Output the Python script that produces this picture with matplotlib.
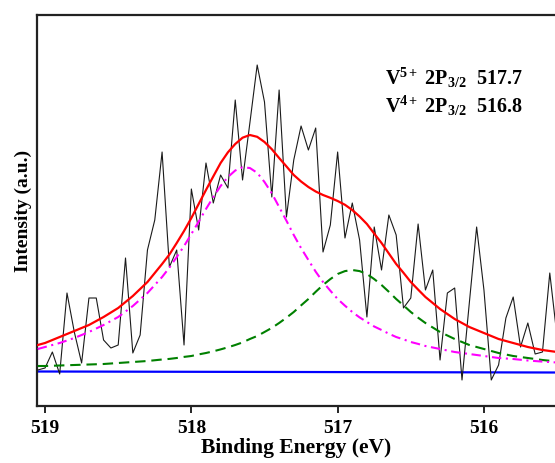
import numpy as np
import matplotlib
matplotlib.use("Agg")
import matplotlib.pyplot as plt

plt.rcParams["font.family"] = ["Liberation Serif", "DejaVu Serif"]
plt.rcParams["font.weight"] = "bold"
plt.rcParams["mathtext.fontset"] = "custom"
plt.rcParams["mathtext.rm"] = "Liberation Serif:bold"
plt.rcParams["mathtext.bf"] = "Liberation Serif:bold"
plt.rcParams["mathtext.it"] = "Liberation Serif:bold:italic"

# raw spectrum, 0.05 eV steps from 519.05 down to 515.50 (a.u., background = 0)
E_START, E_STEP = 519.05, 0.05
counts = [2, 4, 20, -2, 79, 40, 9, 74, 74, 32, 24, 27, 114, 19, 37, 122,
          152, 220, 105, 122, 27, 183, 142, 209, 169, 197, 184, 272, 192, 249,
          307, 270, 175, 282, 155, 212, 246, 222, 244, 120, 147, 220, 134, 169,
          132, 55, 145, 102, 157, 137, 64, 74, 148, 82, 102, 12, 79, 84, -8,
          69, 145, 82, -8, 7, 54, 75, 25, 49, 18, 20, 99, 35]

# fitted curves (finer spacing around the peaks)
fit_e = [519.05, 519.0, 518.9, 518.8, 518.7, 518.6, 518.5, 518.4, 518.3,
         518.2, 518.15, 518.1, 518.05, 518.0, 517.95, 517.9, 517.85, 517.8,
         517.75, 517.7, 517.65, 517.6, 517.55, 517.5, 517.45, 517.4, 517.35,
         517.3, 517.25, 517.2, 517.15, 517.1, 517.05, 517.0, 516.95, 516.9,
         516.85, 516.8, 516.75, 516.7, 516.65, 516.6, 516.55, 516.5, 516.45,
         516.4, 516.3, 516.2, 516.1, 516.0, 515.9, 515.8, 515.7, 515.6, 515.5]
envelope = [27, 29, 35, 41, 47, 55, 64, 76, 90,
            108, 117.5, 129, 141, 154, 168, 182, 195.6, 209, 219.7, 228,
            234.3, 237, 235.2, 230, 222.8, 214, 205.6, 197, 190.5, 185,
            180.5, 177, 174.2, 171, 167.2, 162, 155.5, 148, 138.4, 129,
            118.5, 108, 99.2, 90, 82.4, 75,
            63, 53, 45, 39, 33, 29, 25, 22, 20]
v5_peak = [23, 25, 29, 34, 40, 47, 55, 66, 79,
           95, 104.4, 115, 125.9, 138, 150.3, 163, 174.9, 186, 195, 201.5,
           204.7, 204, 199.2, 190, 178.7, 165, 151.3, 137, 123.9, 112,
           100.3, 90, 81.3, 73, 66.3, 60, 54.6, 50, 45.5, 42,
           38.3, 35, 32.6, 30, 28.1, 26,
           23, 20, 18, 16, 14, 13, 11.5, 10.4, 9.5]
v4_peak = [6, 6, 6.5, 7, 7.5, 8, 9, 10, 11,
           12.5, 13.1, 14, 15.1, 16, 17.6, 19, 20.7, 22.6, 24.7, 27,
           29.6, 33, 36, 40, 44.1, 49, 54.3, 60, 66.6, 73,
           80.2, 87, 92.9, 98, 100.9, 102, 100.9, 98, 92.9, 87,
           80.2, 73, 66.6, 60, 54.3, 49,
           40, 33, 27, 23, 19, 16, 14, 12, 10.5]
base_e = [519.05, 515.5]
background = [0.5, -0.5]

energy = np.round(E_START - E_STEP * np.arange(len(counts)), 2)

fig = plt.figure(figsize=(5.55, 4.63), dpi=100)
ax = fig.add_axes([37 / 555, 57 / 463, 518 / 555, 391 / 463])

ax.plot(energy, counts, color="#1a1a1a", lw=0.8, zorder=3)
ax.plot(base_e, background, color="#0000ff", lw=1.6, zorder=2)
ax.plot(fit_e, v4_peak, color="#008000", lw=1.5, dashes=(5, 2.8), zorder=4)
ax.plot(fit_e, v5_peak, color="#ff00ff", lw=1.5, dashes=(4.5, 2.2, 1, 2.2), zorder=4)
ax.plot(fit_e, envelope, color="#ff0000", lw=1.6, zorder=5)

ax.set_xlim(519.055, 519.055 - 518 / 146.3)
ax.set_ylim(-34, 357)
ax.set_xticks([519, 518, 517, 516])
ax.set_xticklabels(["519", "518", "517", "516"])
ax.set_yticks([])
ax.tick_params(axis="x", direction="out", length=5, width=1.2, pad=5,
               labelsize=14)
for s in ("left", "top", "bottom"):
    ax.spines[s].set_linewidth(1.6)
    ax.spines[s].set_color("#222222")
ax.spines["right"].set_visible(False)

ax.set_xlabel("Binding Energy (eV)", fontsize=15.5, fontweight="bold")
ax.xaxis.set_label_coords(0.5, -0.083)
ax.set_ylabel("Intensity (a.u.)", fontsize=14, fontweight="bold")
ax.yaxis.set_label_coords(-0.01, 0.5)

fig.text(385 / 555, 1 - 85 / 463, r"$\mathbf{V^{5+}\ 2P_{3/2}\ \ 517.7}$",
         fontsize=14.5, va="baseline", ha="left")
fig.text(385 / 555, 1 - 113 / 463, r"$\mathbf{V^{4+}\ 2P_{3/2}\ \ 516.8}$",
         fontsize=14.5, va="baseline", ha="left")

fig.savefig("out.png", dpi=100)
